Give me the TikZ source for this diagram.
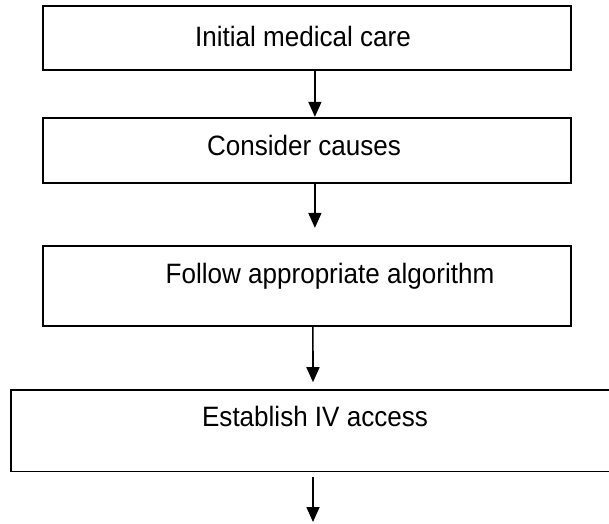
\documentclass[tikz,border=0pt]{standalone}
\usepackage{fontspec}
\setmainfont{Liberation Sans}[FakeStretch=0.93]
\usetikzlibrary{arrows.meta,positioning}
\tikzset{
  stepbox/.style={rectangle, draw=black, line width=1.7pt, inner sep=0pt,
    minimum width=528.3pt},
  boxtext/.style={anchor=base, inner sep=0pt, font=\fontsize{28}{32}\selectfont},
  flow/.style={-{Triangle[length=15pt,width=13pt]}, line width=1.6pt, draw=black},
}

\begin{document}
\begin{tikzpicture}[x=1pt, y=-1pt]
  \useasboundingbox (0,0) rectangle (609,523);
  % boxes
  \node[stepbox, minimum height=64.3pt] (care) at (306.9,37.9) {};
  \node[stepbox, minimum height=65pt] (causes) at (306.9,150.2) {};
  \node[stepbox, minimum height=80.3pt] (algo) at (306.9,285.9) {};
  \node[stepbox, minimum height=81.5pt, minimum width=600pt] (access) at (311,430.8) {};
  % texts
  \node[boxtext] (caretxt) at (303,46) {Initial medical care};
  \node[boxtext] (causestxt) at (304,155) {Consider causes};
  \node[boxtext] (algotxt) at (330,283) {Follow appropriate algorithm};
  \node[boxtext] (accesstxt) at (315,426) {Establish IV access};
  % arrows
  \coordinate (next) at (313,522);
  \draw[flow] ([xshift=8pt]care.south) -- ([xshift=8pt]causes.north);
  \draw[flow] ([xshift=8pt]causes.south) -- ([xshift=8pt,yshift=17pt]algo.north);
  \draw[flow] ([xshift=6pt]algo.south) -- ([xshift=2pt,yshift=7pt]access.north);
  \draw[flow] ([xshift=2pt,yshift=-4.5pt]access.south) -- (next);
\end{tikzpicture}
\end{document}
